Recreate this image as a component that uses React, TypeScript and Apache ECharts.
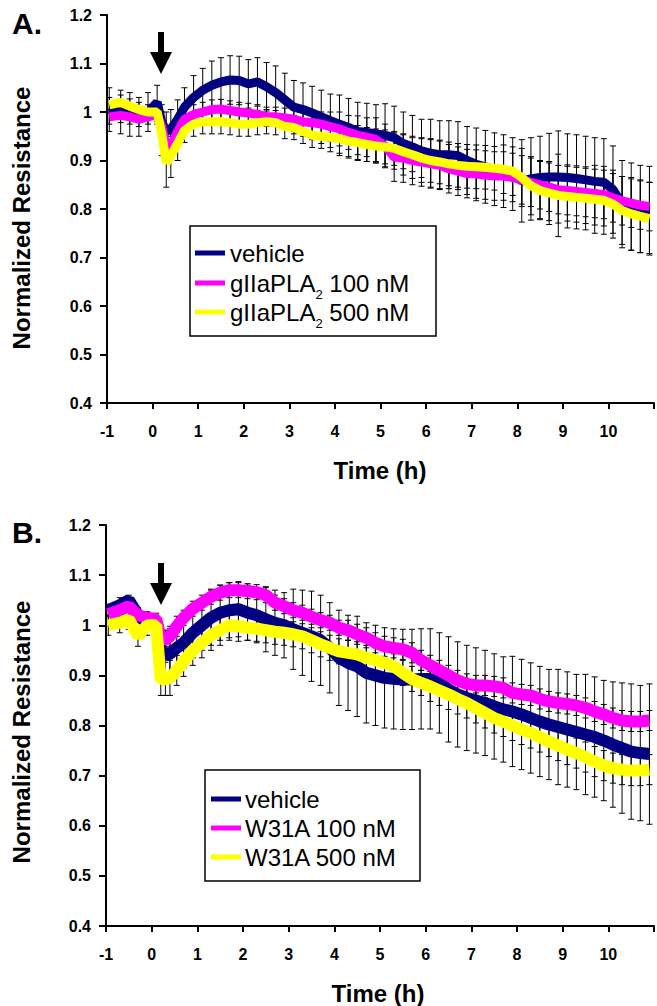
import React, { useEffect, useRef } from 'react';
import * as echarts from 'echarts';

const FONT = "'Liberation Sans', Arial, Helvetica, sans-serif";

// Time points (h)
const times = [-0.95, -0.7, -0.5, -0.3, -0.1, 0.1, 0.2, 0.3, 0.4, 0.55,
  0.7, 0.9, 1.1, 1.3, 1.5, 1.7, 1.9, 2.1, 2.3, 2.5,
  2.7, 2.9, 3.1, 3.3, 3.5, 3.7, 3.9, 4.1, 4.3, 4.5,
  4.7, 4.9, 5.1, 5.3, 5.5, 5.7, 5.9, 6.1, 6.3, 6.5,
  6.7, 6.9, 7.1, 7.3, 7.5, 7.7, 7.9, 8.1, 8.3, 8.5,
  8.7, 8.9, 9.1, 9.3, 9.5, 9.7, 9.9, 10.1, 10.3, 10.5,
  10.7, 10.9];

const xTicks = [-1, 0, 1, 2, 3, 4, 5, 6, 7, 8, 9, 10];
const yTicks = [0.4, 0.5, 0.6, 0.7, 0.8, 0.9, 1, 1.1, 1.2];

// Panel A
const vehicleA = [1.005, 1.0, 0.995, 0.99, 1.0, 1.02, 0.98, 0.96, 0.965, 0.985,
  1.01, 1.03, 1.045, 1.055, 1.062, 1.066, 1.065, 1.058, 1.062, 1.052,
  1.04, 1.025, 1.01, 1.005, 0.998, 0.99, 0.982, 0.975, 0.968, 0.96,
  0.958, 0.955, 0.952, 0.947, 0.935, 0.928, 0.92, 0.915, 0.912, 0.912,
  0.91, 0.9, 0.892, 0.887, 0.882, 0.878, 0.872, 0.858, 0.862, 0.865,
  0.866, 0.866, 0.865, 0.863, 0.86, 0.857, 0.855, 0.84, 0.81, 0.805,
  0.8, 0.798];
const pla100A = [0.99, 0.993, 0.99, 0.985, 0.99, 0.995, 0.97, 0.93, 0.93, 0.96,
  0.985, 0.995, 1.0, 1.005, 1.006, 1.003, 1.0, 0.998, 0.995, 0.99,
  0.99, 0.988, 0.985, 0.98, 0.978, 0.975, 0.97, 0.965, 0.958, 0.952,
  0.948, 0.943, 0.93, 0.907, 0.905, 0.9, 0.897, 0.893, 0.89, 0.883,
  0.878, 0.873, 0.872, 0.87, 0.868, 0.868, 0.865, 0.86, 0.855, 0.85,
  0.845, 0.84, 0.838, 0.836, 0.834, 0.832, 0.83, 0.823, 0.817, 0.812,
  0.808, 0.805];
const pla500A = [1.015, 1.02, 1.012, 1.005, 1.0, 1.0, 0.955, 0.895, 0.91, 0.935,
  0.962, 0.975, 0.98, 0.98, 0.98, 0.978, 0.975, 0.975, 0.978, 0.98,
  0.978, 0.97, 0.968, 0.96, 0.952, 0.95, 0.948, 0.945, 0.94, 0.937,
  0.933, 0.93, 0.928, 0.925, 0.918, 0.912, 0.905, 0.9, 0.897, 0.893,
  0.89, 0.888, 0.887, 0.886, 0.884, 0.882, 0.878, 0.865, 0.848, 0.838,
  0.833, 0.828, 0.826, 0.824, 0.822, 0.82, 0.818, 0.81, 0.797, 0.79,
  0.785, 0.78];
const vehicleErrA = [0.045, 0.045, 0.045, 0.04, 0.04, 0.035, 0.035, 0.04, 0.04, 0.04,
  0.04, 0.045, 0.045, 0.05, 0.05, 0.05, 0.05, 0.05, 0.05, 0.05,
  0.055, 0.055, 0.055, 0.055, 0.055, 0.055, 0.055, 0.06, 0.06, 0.06,
  0.06, 0.06, 0.065, 0.065, 0.065, 0.065, 0.065, 0.07, 0.07, 0.07,
  0.07, 0.07, 0.075, 0.075, 0.075, 0.075, 0.075, 0.085, 0.085, 0.085,
  0.09, 0.095, 0.09, 0.09, 0.09, 0.09, 0.09, 0.09, 0.09, 0.09,
  0.09, 0.09];
const pla100ErrA = [0.015, 0.015, 0.015, 0.015, 0.015, 0.02, 0.02, 0.02, 0.02, 0.02,
  0.02, 0.02, 0.02, 0.02, 0.02, 0.02, 0.02, 0.02, 0.02, 0.02,
  0.02, 0.02, 0.025, 0.025, 0.025, 0.025, 0.03, 0.035, 0.035, 0.04,
  0.04, 0.045, 0.045, 0.05, 0.05, 0.05, 0.05, 0.05, 0.05, 0.05,
  0.05, 0.05, 0.05, 0.05, 0.05, 0.05, 0.05, 0.05, 0.05, 0.05,
  0.05, 0.05, 0.05, 0.05, 0.05, 0.05, 0.05, 0.05, 0.05, 0.05,
  0.05, 0.05];
const pla500ErrA = [0.015, 0.015, 0.015, 0.015, 0.015, 0.02, 0.045, 0.05, 0.045, 0.035,
  0.025, 0.025, 0.025, 0.025, 0.025, 0.025, 0.025, 0.025, 0.025, 0.025,
  0.025, 0.025, 0.025, 0.025, 0.025, 0.025, 0.03, 0.035, 0.035, 0.035,
  0.035, 0.035, 0.035, 0.035, 0.035, 0.035, 0.04, 0.045, 0.045, 0.045,
  0.045, 0.045, 0.045, 0.045, 0.045, 0.05, 0.05, 0.06, 0.06, 0.06,
  0.065, 0.085, 0.065, 0.065, 0.065, 0.07, 0.07, 0.07, 0.07, 0.075,
  0.075, 0.075];

// Panel B
const vehicleB = [1.03, 1.04, 1.05, 1.02, 1.005, 0.998, 0.955, 0.94, 0.943, 0.955,
  0.965, 0.985, 1.0, 1.015, 1.025, 1.03, 1.032, 1.025, 1.02, 1.012,
  1.005, 1.0, 0.992, 0.985, 0.978, 0.97, 0.955, 0.935, 0.925, 0.918,
  0.905, 0.9, 0.895, 0.893, 0.892, 0.892, 0.893, 0.893, 0.885, 0.872,
  0.862, 0.855, 0.85, 0.845, 0.838, 0.832, 0.828, 0.822, 0.815, 0.808,
  0.802, 0.797, 0.792, 0.787, 0.782, 0.777, 0.77, 0.762, 0.755, 0.748,
  0.745, 0.743];
const w31a100B = [1.022, 1.03, 1.038, 1.02, 1.015, 1.012, 0.975, 0.97, 0.978, 0.998,
  1.015, 1.033, 1.045, 1.057, 1.065, 1.07, 1.07, 1.068, 1.066, 1.06,
  1.045, 1.038, 1.03, 1.025, 1.017, 1.01, 1.005, 0.995, 0.99, 0.982,
  0.975, 0.965, 0.958, 0.955, 0.952, 0.945, 0.93, 0.92, 0.91, 0.9,
  0.89, 0.883, 0.88, 0.88, 0.878, 0.875, 0.865, 0.862, 0.86, 0.853,
  0.848, 0.845, 0.843, 0.84, 0.835, 0.828, 0.822, 0.815, 0.81, 0.808,
  0.808, 0.81];
const w31a500B = [1.0, 1.005, 1.012, 0.978, 1.0, 1.0, 0.89, 0.893, 0.895, 0.91,
  0.928, 0.95, 0.965, 0.98, 0.99, 1.0, 0.998, 0.995, 0.993, 0.99,
  0.987, 0.985, 0.982, 0.978, 0.97, 0.962, 0.955, 0.948, 0.945, 0.942,
  0.935, 0.93, 0.925, 0.918, 0.905, 0.893, 0.885, 0.878, 0.87, 0.862,
  0.853, 0.845, 0.835, 0.825, 0.815, 0.808, 0.8, 0.792, 0.785, 0.777,
  0.768, 0.76, 0.752, 0.745, 0.737, 0.728, 0.72, 0.715, 0.712, 0.71,
  0.71, 0.712];
const vehicleErrB = [0.012, 0.015, 0.01, 0.015, 0.015, 0.02, 0.045, 0.05, 0.05, 0.05,
  0.05, 0.05, 0.05, 0.055, 0.055, 0.055, 0.055, 0.055, 0.055, 0.065,
  0.065, 0.065, 0.08, 0.085, 0.09, 0.09, 0.09, 0.095, 0.095, 0.1,
  0.1, 0.1, 0.1, 0.1, 0.1, 0.1, 0.1, 0.1, 0.1, 0.105,
  0.105, 0.105, 0.105, 0.105, 0.105, 0.105, 0.11, 0.11, 0.11, 0.11,
  0.11, 0.115, 0.115, 0.115, 0.12, 0.12, 0.12, 0.125, 0.13, 0.135,
  0.135, 0.14];
const w31a100ErrB = [0.012, 0.012, 0.012, 0.012, 0.012, 0.012, 0.015, 0.02, 0.02, 0.02,
  0.015, 0.015, 0.015, 0.015, 0.015, 0.015, 0.015, 0.015, 0.015, 0.015,
  0.015, 0.015, 0.015, 0.015, 0.015, 0.015, 0.015, 0.015, 0.02, 0.02,
  0.02, 0.02, 0.02, 0.02, 0.02, 0.02, 0.02, 0.02, 0.02, 0.02,
  0.02, 0.02, 0.02, 0.02, 0.02, 0.02, 0.02, 0.02, 0.02, 0.02,
  0.02, 0.02, 0.02, 0.02, 0.02, 0.02, 0.02, 0.02, 0.02, 0.02,
  0.02, 0.02];
const w31a500ErrB = [0.02, 0.02, 0.02, 0.02, 0.02, 0.02, 0.03, 0.033, 0.035, 0.03,
  0.03, 0.03, 0.03, 0.03, 0.03, 0.03, 0.03, 0.025, 0.025, 0.025,
  0.025, 0.025, 0.025, 0.025, 0.025, 0.025, 0.025, 0.025, 0.025, 0.025,
  0.025, 0.025, 0.025, 0.025, 0.025, 0.025, 0.025, 0.03, 0.03, 0.03,
  0.03, 0.03, 0.03, 0.03, 0.03, 0.03, 0.03, 0.03, 0.03, 0.03,
  0.03, 0.03, 0.03, 0.03, 0.03, 0.03, 0.03, 0.03, 0.03, 0.03,
  0.03, 0.03];

const NAVY = '#000080';
const MAGENTA = '#FF00FF';
const YELLOW = '#FFFF00';

function errorBars(values: number[], errs: number[], idx: number, z: number) {
  return {
    type: 'custom',
    xAxisIndex: idx,
    yAxisIndex: idx,
    z,
    silent: true,
    clip: true,
    data: times.map((t, i) => [t, values[i], errs[i]]),
    encode: { x: 0, y: 1 },
    renderItem: (params: any, api: any) => {
      const x = api.value(0);
      const y = api.value(1);
      const e = api.value(2);
      const top = api.coord([x, y + e]);
      const bot = api.coord([x, y - e]);
      const hw = 3;
      const st = { stroke: '#000', lineWidth: 1 };
      return {
        type: 'group',
        children: [
          { type: 'line', shape: { x1: top[0], y1: top[1], x2: bot[0], y2: bot[1] }, style: st },
          { type: 'line', shape: { x1: top[0] - hw, y1: top[1], x2: top[0] + hw, y2: top[1] }, style: st },
          { type: 'line', shape: { x1: bot[0] - hw, y1: bot[1], x2: bot[0] + hw, y2: bot[1] }, style: st },
        ],
      };
    },
  };
}

function lineSeries(name: string, values: number[], color: string, idx: number, width: number, z: number) {
  return {
    type: 'line',
    name,
    xAxisIndex: idx,
    yAxisIndex: idx,
    z,
    showSymbol: false,
    symbol: 'none',
    data: times.map((t, i) => [t, values[i]]),
    lineStyle: { color, width, cap: 'butt', join: 'bevel' },
    itemStyle: { color },
  };
}

function makeXAxis(idx: number) {
  return {
    type: 'value',
    gridIndex: idx,
    min: -1,
    max: 11,
    interval: 1,
    axisLine: { onZero: false, lineStyle: { color: '#000', width: 2 } },
    axisTick: { inside: false, length: 6, lineStyle: { color: '#000', width: 2 } },
    axisLabel: {
      margin: 20,
      color: '#000',
      fontSize: 16,
      fontWeight: 'bold',
      fontFamily: FONT,
      lineHeight: 16,
      formatter: (v: number) => (xTicks.indexOf(v) >= 0 ? String(v) : ''),
    },
    splitLine: { show: false },
  };
}

function makeYAxis(idx: number) {
  return {
    type: 'value',
    gridIndex: idx,
    min: 0.4,
    max: 1.2,
    interval: 0.1,
    axisLine: { show: true, onZero: false, lineStyle: { color: '#000', width: 2 } },
    axisTick: { show: true, inside: false, length: 7, lineStyle: { color: '#000', width: 2 } },
    axisLabel: {
      margin: 15,
      color: '#000',
      fontSize: 16,
      fontWeight: 'bold',
      fontFamily: FONT,
      formatter: (v: number) => {
        const r = Math.round(v * 10) / 10;
        return yTicks.indexOf(r) >= 0 ? String(r) : '';
      },
    },
    splitLine: { show: false },
  };
}

function arrow(topY: number) {
  const cx = 161;
  return {
    type: 'polygon',
    shape: {
      points: [
        [cx - 3, topY], [cx + 3, topY], [cx + 3, topY + 20], [cx + 11, topY + 20],
        [cx, topY + 42], [cx - 11, topY + 20], [cx - 3, topY + 20],
      ],
    },
    style: { fill: '#000' },
    z: 100,
  };
}

export default function App() {
  const ref = useRef<HTMLDivElement>(null);

  useEffect(() => {
    if (!ref.current) return;
    const chart = echarts.init(ref.current, undefined, { renderer: 'svg' });

    const canvas = document.createElement('canvas');
    const ctx = canvas.getContext('2d') as CanvasRenderingContext2D;
    ctx.font = `24px ${FONT}`;
    const wMain = ctx.measureText('gIIaPLA').width;
    ctx.font = `13px ${FONT}`;
    const wSub = ctx.measureText('2').width;

    const legendText = (text: string, x: number, y: number, size = 24) => ({
      type: 'text',
      x,
      y,
      z: 101,
      style: { text, fill: '#000', font: `${size}px ${FONT}`, textAlign: 'left', textVerticalAlign: 'middle' },
    });

    const swatch = (x: number, y: number, color: string) => ({
      type: 'rect',
      shape: { x, y: y - 2.5, width: 30, height: 5 },
      style: { fill: color },
      z: 101,
    });

    const legendA = [
      { type: 'rect', shape: { x: 190, y: 226, width: 246, height: 110 }, style: { fill: '#fff', stroke: '#000', lineWidth: 1.5 }, z: 100 },
      swatch(195, 253, NAVY),
      legendText('vehicle', 230, 253),
      swatch(195, 283, MAGENTA),
      legendText('gIIaPLA', 230, 283),
      legendText('2', 230 + wMain, 294, 13),
      legendText(' 100 nM', 230 + wMain + wSub, 283),
      swatch(195, 312, YELLOW),
      legendText('gIIaPLA', 230, 312),
      legendText('2', 230 + wMain, 323, 13),
      legendText(' 500 nM', 230 + wMain + wSub, 312),
    ];

    const legendB = [
      { type: 'rect', shape: { x: 205, y: 770, width: 215, height: 111 }, style: { fill: '#fff', stroke: '#000', lineWidth: 1.5 }, z: 100 },
      swatch(211, 799, NAVY),
      legendText('vehicle', 245, 799),
      swatch(211, 828, MAGENTA),
      legendText('W31A 100 nM', 245, 828),
      swatch(211, 857, YELLOW),
      legendText('W31A 500 nM', 245, 857),
    ];

    const boldText = (text: string, x: number, y: number, size: number, rotation = 0, align = 'center') => ({
      type: 'text',
      x,
      y,
      rotation,
      z: 100,
      style: { text, fill: '#000', font: `bold ${size}px ${FONT}`, textAlign: align, textVerticalAlign: 'middle' },
    });

    chart.setOption({
      animation: false,
      backgroundColor: '#fff',
      grid: [
        { left: 107, top: 15, width: 552, height: 388 },
        { left: 106, top: 525, width: 551, height: 401 },
      ],
      xAxis: [makeXAxis(0), makeXAxis(1)],
      yAxis: [makeYAxis(0), makeYAxis(1)],
      series: [
        errorBars(vehicleA, vehicleErrA, 0, 1),
        errorBars(pla100A, pla100ErrA, 0, 1),
        errorBars(pla500A, pla500ErrA, 0, 1),
        lineSeries('vehicle', vehicleA, NAVY, 0, 9, 2),
        lineSeries('gIIaPLA2 100 nM', pla100A, MAGENTA, 0, 9, 3),
        lineSeries('gIIaPLA2 500 nM', pla500A, YELLOW, 0, 9, 4),
        errorBars(vehicleB, vehicleErrB, 1, 1),
        errorBars(w31a100B, w31a100ErrB, 1, 1),
        errorBars(w31a500B, w31a500ErrB, 1, 1),
        lineSeries('vehicle', vehicleB, NAVY, 1, 12, 2),
        lineSeries('W31A 100 nM', w31a100B, MAGENTA, 1, 12, 3),
        lineSeries('W31A 500 nM', w31a500B, YELLOW, 1, 12, 4),
      ],
      graphic: [
        boldText('A.', 12, 23, 30, 0, 'left'),
        boldText('B.', 12, 532, 30, 0, 'left'),
        boldText('Normalized Resistance', 21, 218, 24, Math.PI / 2),
        boldText('Normalized Resistance', 21, 732, 24, Math.PI / 2),
        boldText('Time (h)', 380, 470, 24),
        boldText('Time (h)', 378, 993, 24),
        arrow(32),
        arrow(563),
        ...legendA,
        ...legendB,
      ],
    });

    return () => {
      chart.dispose();
    };
  }, []);

  return (
    <div
      ref={ref}
      style={{ position: 'fixed', left: 0, top: 0, width: 657, height: 1006, background: '#fff' }}
    />
  );
}
